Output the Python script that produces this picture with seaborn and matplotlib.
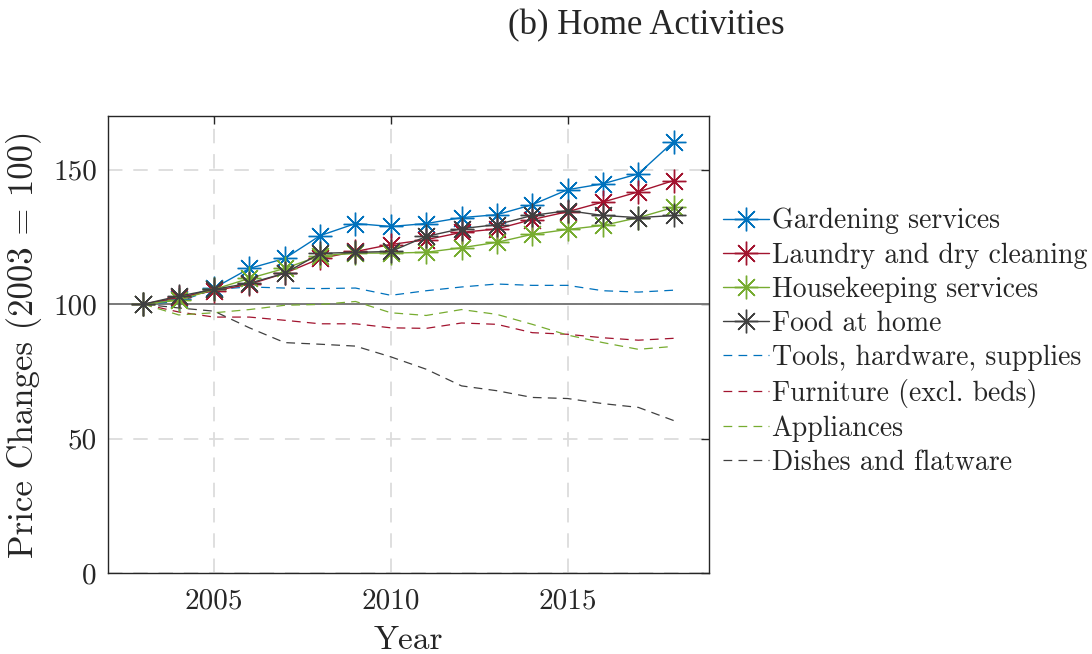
import numpy as np
import pandas as pd
import matplotlib
matplotlib.use("Agg")
import matplotlib.pyplot as plt
import seaborn as sns

years = list(range(2003, 2019))

gardening = [100, 102, 106, 113.3, 117, 125.5, 130, 128.9, 130, 132.2, 133.3, 137, 142.6, 144.8, 148.5, 160.5]
laundry = [100, 102.5, 105, 107.4, 111.5, 117, 119.6, 122.2, 124, 126.7, 128, 131.5, 134.4, 138, 141.8, 146]
housekeeping = [100, 101.5, 105.5, 109.6, 113.3, 118, 119, 119, 119.3, 121, 123, 126, 127.8, 129.3, 132.2, 136]
food_home = [100, 103, 105.5, 107.8, 111.5, 118.9, 119.3, 119.6, 125.2, 128.1, 129.6, 133, 134.8, 133, 132.2, 133]
tools = [100, 101, 105.5, 106.4, 106, 105.8, 106, 103.3, 105, 106.4, 107.5, 107, 107, 105, 104.5, 105.2]
furniture = [100, 97.1, 95.2, 95.2, 94, 92.7, 92.7, 91.2, 91, 93, 92.5, 89.4, 88.8, 87.5, 86.6, 87.3]
appliances = [100, 96, 96.8, 98, 99.6, 99.9, 101, 96.8, 95.8, 98, 96.2, 92.5, 88.5, 85.7, 83.2, 84.3]
dishes = [100, 98.6, 97.4, 91.2, 85.7, 85.1, 84.4, 80.4, 75.8, 69.6, 67.8, 65.3, 64.9, 63, 61.6, 56.7]

labels = ["Gardening services", "Laundry and dry cleaning", "Housekeeping services",
          "Food at home", "Tools, hardware, supplies", "Furniture (excl. beds)",
          "Appliances", "Dishes and flatware"]
series = [gardening, laundry, housekeeping, food_home, tools, furniture, appliances, dishes]
colors = ["#0072BD", "#A2142F", "#77AC30", "#404040"] * 2

df = pd.DataFrame({"Year": years * len(series),
                   "Value": np.concatenate(series),
                   "Series": np.repeat(labels, len(years))})

sns.set_style("white")
plt.rcParams["font.family"] = ["cmr10", "DejaVu Serif"]
plt.rcParams["axes.formatter.use_mathtext"] = True
plt.rcParams["mathtext.fontset"] = "cm"

fig = plt.figure(figsize=(10.92, 6.54), dpi=100)
ax = fig.add_axes([0.0989, 0.1239, 0.5504, 0.6987])

ax.axhline(100, color="#7a7a7a", lw=1.4, zorder=1)

for i, (lab, col) in enumerate(zip(labels, colors)):
    sub = df[df["Series"] == lab]
    if i < 4:
        sns.lineplot(data=sub, x="Year", y="Value", ax=ax, color=col, lw=1.0,
                     marker=(8, 2, 0), markersize=17, markeredgewidth=1.0,
                     markeredgecolor=col, label=lab, zorder=3 + i)
    else:
        sns.lineplot(data=sub, x="Year", y="Value", ax=ax, color=col, lw=0.9,
                     dashes=(7, 5), label=lab, zorder=2)

ax.set_xlim(2002, 2019)
ax.set_ylim(0, 170)
ax.set_xticks([2005, 2010, 2015])
ax.set_xticklabels(["2005", "2010", "2015"])
ax.set_yticks([0, 50, 100, 150])
ax.set_yticklabels(["0", "50", "100", "150"])
ax.grid(True, color="#dcdcdc", lw=1.3, ls=(0, (8, 6)))
ax.tick_params(direction="in", length=6, width=1, top=True, right=True,
               labelsize=21, colors="#262626", pad=8)
ax.tick_params(axis="x", pad=11)
for s in ax.spines.values():
    s.set_color("#262626")
    s.set_linewidth(1.0)
ax.set_xlabel("Year", fontsize=24, labelpad=8)
ax.set_ylabel("Price Changes (2003 = 100)", fontsize=25, labelpad=8)

leg = ax.legend(loc="center left", bbox_to_anchor=(0.662, 0.477), bbox_transform=fig.transFigure,
                frameon=False, fontsize=20, handlelength=1.65, handletextpad=0.1,
                labelspacing=0.28, borderaxespad=0, borderpad=0)

fig.text(0.5916, 0.96, "(b) Home Activities", ha="center", va="center",
         fontsize=25, family="Liberation Serif")

fig.savefig("out.png", dpi=100)
